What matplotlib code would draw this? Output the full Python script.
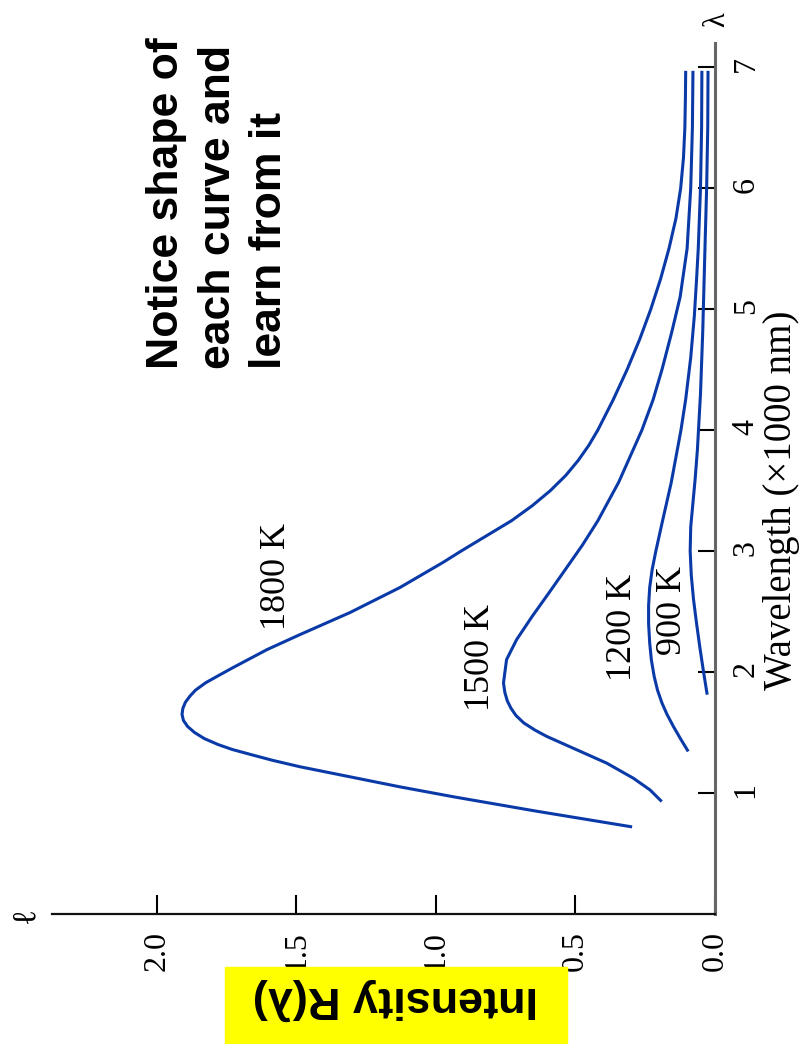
import matplotlib
matplotlib.use("Agg")
import matplotlib.pyplot as plt
from matplotlib.patches import Rectangle

# blackbody curves, wavelength in units of 1000 nm, intensity R(lambda)
lam_1800 = [0.72, 0.85, 0.968, 1.051, 1.134, 1.217, 1.27, 1.316, 1.36, 1.40, 1.45, 1.50,
            1.55, 1.60, 1.65, 1.70, 1.75, 1.80, 1.85, 1.912, 1.97, 2.036, 2.185, 2.31,
            2.492, 2.699, 2.906, 3.0, 3.125, 3.25, 3.375, 3.5, 3.625, 3.75, 3.875, 4.0,
            4.25, 4.5, 4.75, 5.0, 5.25, 5.5, 5.75, 6.0, 6.25, 6.5, 6.75, 6.97]
int_1800 = [0.297, 0.64, 0.935, 1.129, 1.308, 1.487, 1.585, 1.66, 1.73, 1.78, 1.83, 1.865,
            1.89, 1.905, 1.91, 1.907, 1.898, 1.882, 1.862, 1.825, 1.78, 1.728, 1.606, 1.487,
            1.308, 1.129, 0.975, 0.91, 0.82, 0.73, 0.655, 0.59, 0.535, 0.49, 0.452, 0.42,
            0.365, 0.315, 0.27, 0.23, 0.195, 0.165, 0.14, 0.123, 0.113, 0.108, 0.106, 0.105]

lam_1500 = [0.93, 1.026, 1.123, 1.247, 1.358, 1.468, 1.52, 1.579, 1.64, 1.70, 1.76, 1.83,
            1.91, 2.103, 2.268, 2.461, 2.655, 2.862, 3.05, 3.25, 3.57, 4.0, 4.25, 4.5, 4.81,
            5.1, 5.5, 6.0, 6.5, 6.97]
int_1500 = [0.191, 0.233, 0.293, 0.388, 0.496, 0.603, 0.645, 0.685, 0.713, 0.731, 0.744,
            0.753, 0.758, 0.747, 0.711, 0.655, 0.595, 0.532, 0.475, 0.42, 0.345, 0.262,
            0.222, 0.19, 0.155, 0.125, 0.10, 0.087, 0.081, 0.079]

lam_1200 = [1.344, 1.45, 1.55, 1.65, 1.744, 1.85, 1.964, 2.1, 2.24, 2.4, 2.55, 2.7, 2.85,
            3.0, 3.25, 3.565, 4.0, 4.255, 4.6, 4.945, 5.25, 5.5, 6.0, 6.5, 6.97]
int_1200 = [0.096, 0.124, 0.149, 0.172, 0.19, 0.206, 0.218, 0.228, 0.234, 0.238, 0.238,
            0.234, 0.225, 0.212, 0.188, 0.157, 0.122, 0.105, 0.087, 0.074, 0.066, 0.06,
            0.052, 0.048, 0.047]

lam_900 = [1.813, 2.0, 2.2, 2.4, 2.6, 2.8, 3.0, 3.2, 3.4, 3.6, 3.84, 4.3, 4.81, 5.5, 6.0,
           6.5, 6.97]
int_900 = [0.028, 0.041, 0.054, 0.066, 0.077, 0.085, 0.089, 0.087, 0.079, 0.071, 0.063,
           0.052, 0.044, 0.036, 0.03, 0.026, 0.025]

curves = [("1800 K", lam_1800, int_1800, 1.57, 2.79),
          ("1500 K", lam_1500, int_1500, 0.84, 2.12),
          ("1200 K", lam_1200, int_1200, 0.333, 2.37),
          ("900 K", lam_900, int_900, 0.154, 2.51)]

intensity_ticks = [0.0, 0.5, 1.0, 1.5, 2.0]
wavelength_ticks = [1, 2, 3, 4, 5, 6, 7]

W, H = 802, 1044
SERIF = "Liberation Serif"
SANS = "Liberation Sans"
BLUE = "#0a3aa8"

fig = plt.figure(figsize=(W / 100, H / 100), dpi=100)

# plot turned on its side: intensity runs right-to-left, wavelength bottom-to-top
ax = fig.add_axes([52 / W, (H - 914) / H, (715 - 52) / W, (914 - 43) / H])
ax.set_xlim(2.376, 0)
ax.set_ylim(0, 7.2)

for name, lam, inten, lx, ly in curves:
    ax.plot(inten, lam, color=BLUE, lw=2.2, solid_capstyle="butt", solid_joinstyle="round")
    ax.text(lx, ly, name, rotation=90, ha="center", va="center",
            fontsize=26, family=SERIF)

ax.spines["left"].set_visible(False)
ax.spines["top"].set_visible(False)
ax.spines["right"].set_color("#666666")
ax.spines["right"].set_linewidth(2.2)
ax.spines["bottom"].set_color("#111111")
ax.spines["bottom"].set_linewidth(1.6)

ax.set_xticks(intensity_ticks)
ax.set_xticklabels([f"{v:.1f}" for v in intensity_ticks], family=SERIF)
ax.yaxis.tick_right()
ax.set_yticks(wavelength_ticks)
ax.set_yticklabels([str(v) for v in wavelength_ticks], family=SERIF)
ax.tick_params(axis="x", direction="in", length=14, width=1.5, pad=12,
               labelsize=23, labelrotation=90)
ax.tick_params(axis="y", direction="in", length=12, width=1.5, pad=12,
               labelsize=23, labelrotation=90)

# axis names
fig.text(781 / W, 1 - 500 / H, "Wavelength (\u00d71000 nm)", rotation=90,
         ha="center", va="center", fontsize=28, family=SERIF)
fig.text(717 / W, 1 - 20 / H, "\u03bb", rotation=90, ha="center", va="center",
         fontsize=22, family=SERIF)
fig.text(25 / W, 1 - 915 / H, "\u2113", rotation=90, ha="center", va="center",
         fontsize=24, family=SERIF)

# yellow label box, upside down
fig.patches.append(Rectangle((225 / W, 0), (567 - 225) / W, (H - 967) / H,
                             transform=fig.transFigure, color="#ffff00", zorder=0))
fig.text(395 / W, 1 - 987 / H, "Intensity R(\u03bb)", rotation=180,
         rotation_mode="anchor", ha="center", va="baseline",
         fontsize=32.5, weight="bold", family=SANS)

fig.text(218 / W, 1 - 369 / H, "Notice shape of\neach curve and\nlearn from it",
         rotation=90, ha="center", va="bottom", multialignment="left",
         fontsize=32, weight="bold", family=SANS, linespacing=1.33)

fig.savefig("out.png", dpi=100)
